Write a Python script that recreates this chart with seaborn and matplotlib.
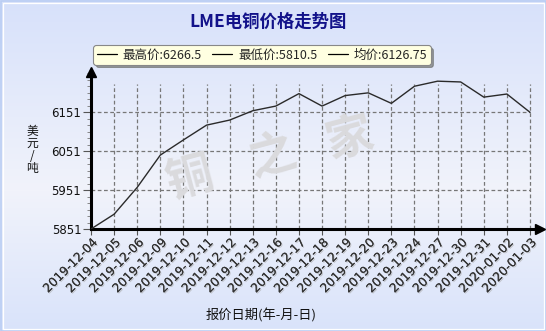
import numpy as np
import pandas as pd
import matplotlib
matplotlib.use("Agg")
import matplotlib.pyplot as plt
import matplotlib.patheffects as pe
from matplotlib.lines import Line2D
from matplotlib.patches import Rectangle
import seaborn as sns

title = "LME电铜价格走势图"
dates = ["2019-12-04", "2019-12-05", "2019-12-06", "2019-12-09", "2019-12-10",
         "2019-12-11", "2019-12-12", "2019-12-13", "2019-12-16", "2019-12-17",
         "2019-12-18", "2019-12-19", "2019-12-20", "2019-12-23", "2019-12-24",
         "2019-12-27", "2019-12-30", "2019-12-31", "2020-01-02", "2020-01-03"]
prices = [5851, 5889, 5958, 6041, 6080, 6118, 6131, 6155, 6167, 6199,
          6167, 6194, 6201, 6174, 6218, 6231, 6229, 6190, 6198, 6151]
y_ticks = [5851, 5951, 6051, 6151]
legend_labels = ["最高价:6266.5", "最低价:5810.5", "均价:6126.75"]
x_label = "报价日期(年-月-日)"
y_label = "美\n元\n/\n吨"
watermark = ["铜", "之", "家"]

sns.set_theme(style="white")
plt.rcParams["font.family"] = ["Noto Sans CJK SC", "DejaVu Sans"]

W, H = 546, 331
fig = plt.figure(figsize=(W / 100, H / 100), dpi=100)

# background gradient
bg = fig.add_axes([0, 0, 1, 1], zorder=-10)
bg.set_axis_off()
rows = np.arange(H)
top = np.array([0xd7, 0xe1, 0xfb]) / 255
mid = np.array([0xf1, 0xf3, 0xfa]) / 255
bot = np.array([0xd9, 0xe3, 0xfb]) / 255
img = np.zeros((H, 1, 3))
for c in range(3):
    img[:, 0, c] = np.interp(rows, [0, 190, H - 1], [top[c], mid[c], bot[c]])
bg.imshow(img, aspect="auto", extent=[0, 1, 0, 1], origin="upper")
bg.set_xlim(0, 1)
bg.set_ylim(0, 1)
bg.add_patch(Rectangle((0.5 / W, 0.5 / H), 1 - 1 / W, 1 - 1 / H, fill=False,
                       edgecolor="#b9cdf3", linewidth=1.2, transform=bg.transAxes))
bg.add_patch(Rectangle((2.5 / W, 2.5 / H), 1 - 5 / W, 1 - 5 / H, fill=False,
                       edgecolor="#ffffff", linewidth=0.9, transform=bg.transAxes))

# main axes
x0, x1 = 91, 540
ybot, ytop = 229, 72
ax = fig.add_axes([x0 / W, (H - ybot) / H, (x1 - x0) / W, (ybot - ytop) / H])
ax.patch.set_alpha(0)

df = pd.DataFrame({"idx": np.arange(len(dates)), "price": prices})
n = len(dates)
last_px = 530
units_per_px = (n - 1) / (last_px - x0)
ax.set_xlim(0, (n - 1) + (x1 - last_px) * units_per_px)
ypp = 300 / (229 - 112.3)
ax.set_ylim(y_ticks[0], y_ticks[0] + (ybot - ytop) * ypp)

# grid
vfrac = (229 - 84) / (ybot - ytop)
for i in range(1, n):
    ax.axvline(i, ymin=0, ymax=vfrac, color="#777777", lw=0.9, ls=(0, (3, 2)), zorder=1)
hfrac = (last_px - x0) / (x1 - x0)
for v in y_ticks[1:]:
    ax.axhline(v, xmin=0, xmax=hfrac, color="#777777", lw=0.9, ls=(0, (3, 2)), zorder=1)

# watermark
for ch, (px, py) in zip(watermark, [(190, 178), (272, 157), (350, 138)]):
    fig.text(px / W, 1 - py / H, ch, fontsize=34, fontweight="bold", color="#dadadd",
             ha="center", va="center", rotation=15, zorder=0)

sns.lineplot(data=df, x="idx", y="price", ax=ax, color="#2a2a2a", lw=1.0, zorder=3)

for s in ["top", "right"]:
    ax.spines[s].set_visible(False)
for s in ["left", "bottom"]:
    ax.spines[s].set_color("black")
    ax.spines[s].set_linewidth(2.2)
ax.plot([0], [1], marker="^", color="black", ms=7, transform=ax.transAxes, clip_on=False)
ax.plot([1], [0], marker=">", color="black", ms=7, transform=ax.transAxes, clip_on=False)

ax.set_yticks(y_ticks)
ax.set_yticklabels([str(v) for v in y_ticks], fontsize=8.5, color="#111111",
                   family=["DejaVu Sans"])
ax.set_yticks(np.arange(y_ticks[0], ax.get_ylim()[1], 100 / 6), minor=True)
ax.tick_params(axis="y", which="major", length=6, width=0.8, color="#555555", pad=1, left=True)
ax.tick_params(axis="y", which="minor", length=3, width=0.6, color="#777777", left=True)

ax.set_xticks(df["idx"])
ax.set_xticklabels(dates, rotation=45, ha="right", va="top", rotation_mode="anchor",
                   fontsize=8.8, color="#333333", family=["DejaVu Sans"])
for t in ax.get_xticklabels():
    t.set_path_effects([pe.withSimplePatchShadow(offset=(0.8, -0.8), shadow_rgbFace="#aaaaaa", alpha=0.6), pe.Normal()])
ax.tick_params(axis="x", which="major", length=4, width=0.8, color="#555555", pad=1, bottom=True)
ax.set_xlabel("")
ax.set_ylabel("")

fig.text(261 / W, 1 - 315 / H, x_label, fontsize=9.5, color="#111111", ha="center", va="center")
fig.text(32 / W, 1 - 150 / H, y_label, fontsize=8.5, color="#111111", ha="center", va="center",
         linespacing=0.95)

fig.text(268 / W, 1 - 22 / H, title, fontsize=12.5, fontweight="bold", color="#12128a",
         ha="center", va="center")

handles = [Line2D([], [], color="black", lw=0.9) for _ in legend_labels]
leg = fig.legend(handles, legend_labels, loc="center", bbox_to_anchor=(262 / W, 1 - 55 / H),
                 ncol=3, fontsize=9, frameon=True, fancybox=True, shadow=True,
                 handlelength=1.6, handletextpad=0.5, columnspacing=0.8,
                 borderpad=0.25, facecolor="#ffffe1", edgecolor="#888888", framealpha=1)
leg.get_frame().set_linewidth(0.8)

fig.savefig("out.png", dpi=100)
